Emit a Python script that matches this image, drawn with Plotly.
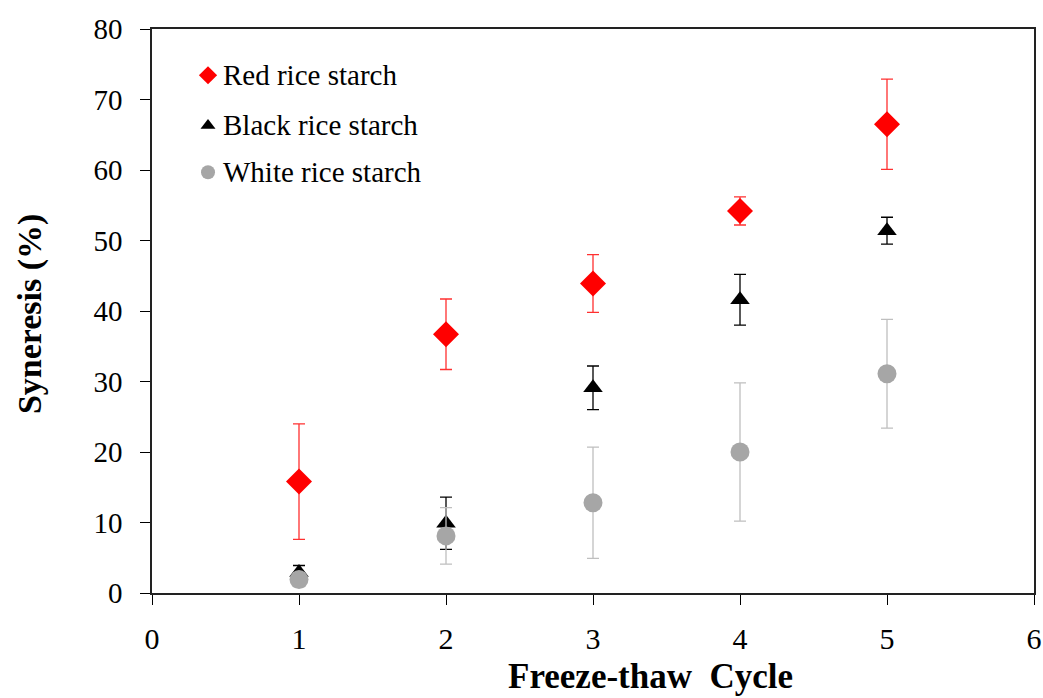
import plotly.graph_objects as go

cycles = [1, 2, 3, 4, 5]

red_mean = [15.8, 36.7, 43.9, 54.2, 66.5]
red_sd = [8.2, 5.0, 4.1, 2.0, 6.4]

black_mean = [2.9, 9.9, 29.1, 41.6, 51.4]
black_sd = [1.0, 3.7, 3.1, 3.6, 1.9]

white_mean = [1.9, 8.1, 12.8, 20.0, 31.1]
white_sd = [1.0, 4.0, 7.9, 9.8, 7.7]

series = [
    ("Red rice starch", red_mean, red_sd, "#ff0000", "#ff3030", "diamond", 20),
    ("Black rice starch", black_mean, black_sd, "#000000", "#000000", "triangle-up", 17),
    ("White rice starch", white_mean, white_sd, "#a6a6a6", "#bfbfbf", "circle", 19),
]

FONT = "Liberation Serif, Times New Roman, serif"
W, H = 1043, 698
ML, MR, MT, MB = 152, 9, 29, 105

fig = go.Figure()

# Data with error bars: black first, then white (overlapping it), red on top
for idx in (1, 2, 0):
    name, mean, sd, col, ecol, sym, size = series[idx]
    fig.add_trace(go.Scatter(
        x=cycles, y=mean, mode="markers", name=name, showlegend=False,
        marker=dict(symbol=sym, size=size, color=col, line=dict(width=0)),
        error_y=dict(type="data", array=sd, visible=True, color=ecol,
                     thickness=1.3, width=6),
    ))

# Key: markers on an overlay axis spanning the plot area in [0, 1] units
key_rows = [0.918, 0.829, 0.746]
key_x = 0.0635
key_sizes = [14, 13, 14]
annotations = []
for (name, mean, sd, col, ecol, sym, size), ky, ks in zip(series, key_rows, key_sizes):
    fig.add_trace(go.Scatter(
        x=[key_x], y=[ky], mode="markers", xaxis="x2", yaxis="y2",
        showlegend=False, hoverinfo="skip",
        marker=dict(symbol=sym, size=ks, color=col, line=dict(width=0)),
    ))
    annotations.append(dict(
        text=name, xref="x2", yref="y2", x=key_x + 0.0148, y=ky,
        xanchor="left", yanchor="middle", showarrow=False,
        font=dict(family=FONT, size=29, color="black"),
    ))

annotations += [
    dict(text="<b>Freeze-thaw\u00a0\u00a0Cycle</b>", xref="paper", yref="paper",
         x=0.565, y=-0.148,
         xanchor="center", yanchor="middle", showarrow=False,
         font=dict(family=FONT, size=35, color="black")),
    dict(text="<b>Syneresis\u00a0(%)</b>", xref="paper", yref="paper",
         x=-0.138, y=0.495,
         xanchor="center", yanchor="middle", showarrow=False, textangle=-90,
         font=dict(family=FONT, size=34, color="black")),
]

fig.update_layout(
    width=W, height=H,
    margin=dict(l=ML, r=MR, t=MT, b=MB, autoexpand=False),
    paper_bgcolor="white", plot_bgcolor="white",
    font=dict(family=FONT, color="black"),
    showlegend=False,
    xaxis=dict(
        range=[0, 6], tickmode="array", tickvals=[0, 1, 2, 3, 4, 5, 6],
        showline=True, linecolor="#222222", linewidth=1.6, mirror=True,
        ticks="outside", ticklen=10, tickwidth=1.3, tickcolor="black",
        showgrid=False, zeroline=False, ticklabelstandoff=8,
        automargin=False, ticklabeloverflow="allow",
        tickfont=dict(family=FONT, size=30, color="black"),
    ),
    yaxis=dict(
        range=[0, 80], tickmode="array", tickvals=list(range(0, 81, 10)),
        showline=True, linecolor="#222222", linewidth=1.6, mirror=True,
        ticks="outside", ticklen=10, tickwidth=1.3, tickcolor="black",
        showgrid=False, zeroline=False, ticklabelstandoff=12,
        automargin=False, ticklabeloverflow="allow",
        tickfont=dict(family=FONT, size=29, color="black"),
    ),
    xaxis2=dict(range=[0, 1], overlaying="x", visible=False, fixedrange=True),
    yaxis2=dict(range=[0, 1], overlaying="y", visible=False, fixedrange=True),
    annotations=annotations,
)

fig.write_html("out.html")
